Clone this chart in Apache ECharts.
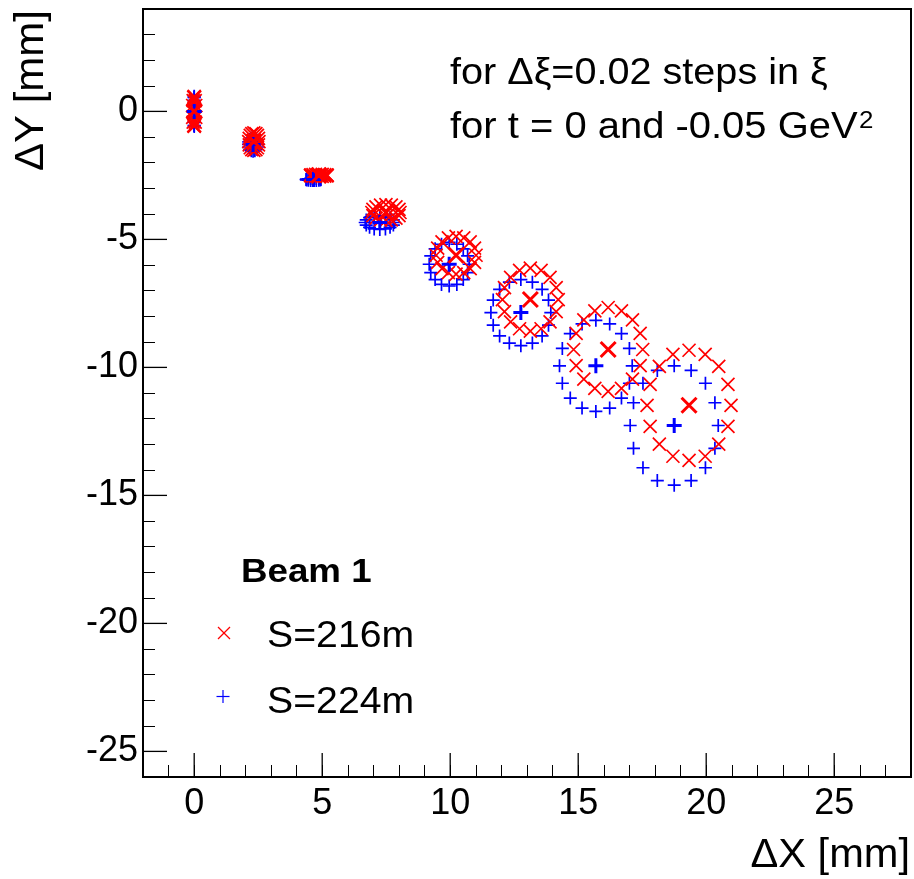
<!DOCTYPE html>
<html>
<head>
<meta charset="utf-8">
<script src="https://cdn.jsdelivr.net/npm/echarts@6/dist/echarts.min.js"></script>
<style>
html,body{margin:0;padding:0;background:#fff;}
#c{width:914px;height:879px;}
</style>
</head>
<body>
<div id="c"></div>
<script>
// ---- data (mm), one inner list per xi step, 16 points around the t = -0.05 GeV^2 ring ----
const ring216X = [
 [0,0.02,0.04,0.06,0.06,0.06,0.04,0.02,0,-0.02,-0.04,-0.06,-0.06,-0.06,-0.04,-0.02],
 [2.33,2.41,2.47,2.51,2.53,2.51,2.47,2.41,2.33,2.25,2.19,2.15,2.13,2.15,2.19,2.25],
 [4.87,5.00,5.10,5.18,5.20,5.18,5.10,5.00,4.87,4.74,4.64,4.56,4.54,4.56,4.64,4.74],
 [7.49,7.70,7.88,8.00,8.04,8.00,7.88,7.70,7.49,7.28,7.10,6.98,6.94,6.98,7.10,7.28],
 [10.23,10.53,10.78,10.95,11.01,10.95,10.78,10.53,10.23,9.93,9.68,9.51,9.45,9.51,9.68,9.93],
 [13.13,13.55,13.90,14.14,14.22,14.14,13.90,13.55,13.13,12.71,12.36,12.12,12.04,12.12,12.36,12.71],
 [16.17,16.69,17.12,17.42,17.52,17.42,17.12,16.69,16.17,15.65,15.22,14.92,14.82,14.92,15.22,15.65],
 [19.33,19.96,20.49,20.85,20.97,20.85,20.49,19.96,19.33,18.70,18.17,17.81,17.69,17.81,18.17,18.70]
];
const ring216Y = [
 [0.59,0.55,0.42,0.23,0,-0.23,-0.42,-0.55,-0.59,-0.55,-0.42,-0.23,0,0.23,0.42,0.55],
 [-0.84,-0.87,-0.94,-1.05,-1.18,-1.31,-1.42,-1.49,-1.52,-1.49,-1.42,-1.31,-1.18,-1.05,-0.94,-0.87],
 [-2.46,-2.46,-2.47,-2.48,-2.50,-2.52,-2.53,-2.54,-2.54,-2.54,-2.53,-2.52,-2.50,-2.48,-2.47,-2.46],
 [-3.64,-3.66,-3.73,-3.83,-3.95,-4.07,-4.17,-4.24,-4.26,-4.24,-4.17,-4.07,-3.95,-3.83,-3.73,-3.66],
 [-4.88,-4.94,-5.10,-5.34,-5.62,-5.90,-6.14,-6.30,-6.36,-6.30,-6.14,-5.90,-5.62,-5.34,-5.10,-4.94],
 [-6.12,-6.21,-6.48,-6.88,-7.35,-7.82,-8.22,-8.49,-8.58,-8.49,-8.22,-7.82,-7.35,-6.88,-6.48,-6.21],
 [-7.66,-7.79,-8.14,-8.67,-9.30,-9.93,-10.46,-10.82,-10.94,-10.82,-10.46,-9.93,-9.30,-8.67,-8.14,-7.79],
 [-9.33,-9.49,-9.96,-10.66,-11.48,-12.30,-13.00,-13.47,-13.63,-13.47,-13.00,-12.30,-11.48,-10.66,-9.96,-9.49]
];
const ring224X = [
 [0,0,0,0,0,0,0,0,0,0,0,0,0,0,0,0],
 [2.30,2.37,2.43,2.47,2.48,2.47,2.43,2.37,2.30,2.23,2.17,2.13,2.12,2.13,2.17,2.23],
 [4.66,4.77,4.87,4.93,4.95,4.93,4.87,4.77,4.66,4.55,4.46,4.39,4.37,4.39,4.46,4.55],
 [7.25,7.47,7.65,7.78,7.82,7.78,7.65,7.47,7.25,7.03,6.85,6.72,6.68,6.72,6.85,7.03],
 [9.96,10.26,10.51,10.68,10.74,10.68,10.51,10.26,9.96,9.66,9.41,9.24,9.18,9.24,9.41,9.66],
 [12.76,13.21,13.59,13.84,13.93,13.84,13.59,13.21,12.76,12.31,11.93,11.68,11.59,11.68,11.93,12.31],
 [15.69,16.23,16.69,17.00,17.11,17.00,16.69,16.23,15.69,15.15,14.69,14.38,14.27,14.38,14.69,15.15],
 [18.75,19.41,19.97,20.34,20.47,20.34,19.97,19.41,18.75,18.09,17.53,17.16,17.03,17.16,17.53,18.09]
];
const ring224Y = [
 [0.59,0.55,0.42,0.23,0,-0.23,-0.42,-0.55,-0.59,-0.55,-0.42,-0.23,0,0.23,0.42,0.55],
 [-1.02,-1.04,-1.10,-1.19,-1.29,-1.39,-1.48,-1.54,-1.56,-1.54,-1.48,-1.39,-1.29,-1.19,-1.10,-1.04],
 [-2.62,-2.62,-2.63,-2.64,-2.66,-2.68,-2.69,-2.70,-2.70,-2.70,-2.69,-2.68,-2.66,-2.64,-2.63,-2.62],
 [-4.07,-4.09,-4.15,-4.24,-4.34,-4.44,-4.53,-4.59,-4.61,-4.59,-4.53,-4.44,-4.34,-4.24,-4.15,-4.09],
 [-5.12,-5.19,-5.37,-5.64,-5.97,-6.30,-6.57,-6.76,-6.82,-6.76,-6.57,-6.30,-5.97,-5.64,-5.37,-5.19],
 [-6.57,-6.67,-6.95,-7.37,-7.86,-8.35,-8.77,-9.05,-9.15,-9.05,-8.77,-8.35,-7.86,-7.37,-6.95,-6.67],
 [-8.16,-8.30,-8.68,-9.26,-9.94,-10.62,-11.20,-11.59,-11.72,-11.59,-11.20,-10.62,-9.94,-9.26,-8.68,-8.30],
 [-9.94,-10.12,-10.62,-11.38,-12.27,-13.16,-13.92,-14.42,-14.60,-14.42,-13.92,-13.16,-12.27,-11.38,-10.62,-10.12]
];
// t = 0 points (ring centres)
const center216X = [0, 2.33, 4.87, 7.49, 10.23, 13.13, 16.17, 19.33];
const center216Y = [0, -1.18, -2.50, -3.95, -5.62, -7.35, -9.30, -11.48];
const center224X = [0, 2.30, 4.66, 7.25, 9.96, 12.76, 15.69, 18.75];
const center224Y = [0, -1.29, -2.66, -4.34, -5.97, -7.86, -9.94, -12.27];
// axis ticks / labels
const xMajorTicks = [0, 5, 10, 15, 20, 25];
const yMajorTicks = [-25, -20, -15, -10, -5, 0];
const seriesNames = ['S=216m', 'S=224m'];

// ---- build ----
function pairs(xs, ys) {
  const out = [];
  for (let i = 0; i < xs.length; i++) {
    if (Array.isArray(xs[i])) {
      for (let j = 0; j < xs[i].length; j++) out.push([xs[i][j], ys[i][j]]);
    } else out.push([xs[i], ys[i]]);
  }
  return out;
}
const SYM_X = 'path://M0,0L10,10M10,0L0,10';
const SYM_P = 'path://M5,0L5,10M0,5L10,5';
const RED = '#ff0000', BLUE = '#0000ff';
const FONT = '"Liberation Sans", Arial, Helvetica, sans-serif';
const MAJOR_LEN = 24;

function markerSeries(name, data, sym, col, size, lw) {
  return {
    name: name, type: 'scatter', xAxisIndex: 0, yAxisIndex: 0,
    data: data, symbol: sym, symbolSize: size, silent: true,
    itemStyle: { color: 'rgba(0,0,0,0)', borderColor: col, borderWidth: lw, opacity: 1 },
    emphasis: { disabled: true }
  };
}
// long (major) ticks drawn through the axis scale
function majorTickSeries(values, dim) {
  return {
    type: 'custom', silent: true, clip: false, z: 5,
    data: values.map(v => dim === 'x' ? [v, 0] : [0, v]),
    renderItem: function (params, api) {
      const cs = params.coordSys;
      if (dim === 'x') {
        const px = api.coord([api.value(0), 0])[0];
        const y0 = cs.y + cs.height;
        return { type: 'line', shape: { x1: px, y1: y0, x2: px, y2: y0 - MAJOR_LEN }, style: { stroke: '#000', lineWidth: 1.3 } };
      }
      const py = api.coord([0, api.value(1)])[1];
      const x0 = cs.x;
      return { type: 'line', shape: { x1: x0, y1: py, x2: x0 + MAJOR_LEN, y2: py }, style: { stroke: '#000', lineWidth: 1.3 } };
    }
  };
}

const chart = echarts.init(document.getElementById('c'), null, { renderer: 'canvas' });
const option = {
  animation: false,
  backgroundColor: '#ffffff',
  grid: { left: 143, top: 9, width: 768, height: 768, show: true, borderColor: '#000', borderWidth: 2, backgroundColor: 'rgba(0,0,0,0)' },
  xAxis: {
    type: 'value', min: -2, max: 28, interval: 1, position: 'bottom',
    splitLine: { show: false },
    axisLine: { show: true, onZero: false, lineStyle: { color: '#000', width: 2 } },
    axisTick: { show: true, inside: true, length: 12, lineStyle: { color: '#000', width: 1 } },
    axisLabel: { show: true, customValues: xMajorTicks, margin: 9, fontSize: 36, fontFamily: FONT, color: '#000' }
  },
  yAxis: {
    type: 'value', min: -26, max: 4, interval: 1, position: 'left',
    splitLine: { show: false },
    axisLine: { show: true, onZero: false, lineStyle: { color: '#000', width: 2 } },
    axisTick: { show: true, inside: true, length: 12, lineStyle: { color: '#000', width: 1 } },
    axisLabel: { show: true, customValues: yMajorTicks, margin: 5, fontSize: 36, fontFamily: FONT, color: '#000' }
  },
  series: [
    majorTickSeries(xMajorTicks, 'x'),
    majorTickSeries(yMajorTicks, 'y'),
    markerSeries(seriesNames[1], pairs(ring224X, ring224Y), SYM_P, BLUE, 13, 1.7),
    markerSeries(seriesNames[0], pairs(ring216X, ring216Y), SYM_X, RED, 13, 1.7),
    markerSeries(seriesNames[1] + ' t=0', pairs(center224X, center224Y), SYM_P, BLUE, 15, 3),
    markerSeries(seriesNames[0] + ' t=0', pairs(center216X, center216Y), SYM_X, RED, 15, 3)
  ],
  graphic: [
    { type: 'text', x: 450, y: 74, scaleX: 1.07, silent: true,
      style: { text: 'for \u0394\u03be=0.02 steps in \u03be', x: 0, y: 0, font: '37px ' + FONT, fill: '#000', textAlign: 'left', textVerticalAlign: 'middle', verticalAlign: 'middle' } },
    { type: 'text', x: 450, y: 128, scaleX: 1.08, silent: true,
      style: { text: 'for t = 0 and -0.05 GeV', x: 0, y: 0, font: '37px ' + FONT, fill: '#000', textAlign: 'left', textVerticalAlign: 'middle', verticalAlign: 'middle' } },
    { type: 'text', x: 859, y: 121, scaleX: 1.08, silent: true,
      style: { text: '2', x: 0, y: 0, font: '24px ' + FONT, fill: '#000', textAlign: 'left', textVerticalAlign: 'middle', verticalAlign: 'middle' } },
    // axis titles
    { type: 'text', x: 32, y: 10, rotation: Math.PI / 2, scaleX: 1.05, silent: true,
      style: { text: '\u0394Y [mm]', x: 0, y: 0, font: '40px ' + FONT, fill: '#000', textAlign: 'right', textVerticalAlign: 'middle', verticalAlign: 'middle' } },
    { type: 'text', x: 910, y: 856, scaleX: 1.04, silent: true,
      style: { text: '\u0394X [mm]', x: 0, y: 0, font: '40px ' + FONT, fill: '#000', textAlign: 'right', textVerticalAlign: 'middle', verticalAlign: 'middle' } },
    // legend
    { type: 'text', x: 241, y: 573, scaleX: 1.08, silent: true,
      style: { text: 'Beam 1', x: 0, y: 0, font: 'bold 34px ' + FONT, fill: '#000', textAlign: 'left', textVerticalAlign: 'middle', verticalAlign: 'middle' } },
    { type: 'text', x: 267, y: 637, scaleX: 1.06, silent: true,
      style: { text: seriesNames[0], x: 0, y: 0, font: '37px ' + FONT, fill: '#000', textAlign: 'left', textVerticalAlign: 'middle', verticalAlign: 'middle' } },
    { type: 'text', x: 267, y: 703, scaleX: 1.06, silent: true,
      style: { text: seriesNames[1], x: 0, y: 0, font: '37px ' + FONT, fill: '#000', textAlign: 'left', textVerticalAlign: 'middle', verticalAlign: 'middle' } },
    { type: 'line', silent: true, shape: { x1: 218, y1: 627, x2: 230, y2: 639 }, style: { stroke: RED, lineWidth: 1.2 } },
    { type: 'line', silent: true, shape: { x1: 230, y1: 627, x2: 218, y2: 639 }, style: { stroke: RED, lineWidth: 1.2 } },
    { type: 'line', silent: true, shape: { x1: 223, y1: 690, x2: 223, y2: 703 }, style: { stroke: BLUE, lineWidth: 1.2 } },
    { type: 'line', silent: true, shape: { x1: 216.5, y1: 696.5, x2: 229.5, y2: 696.5 }, style: { stroke: BLUE, lineWidth: 1.2 } }
  ]
};
chart.setOption(option);
</script>
</body>
</html>
